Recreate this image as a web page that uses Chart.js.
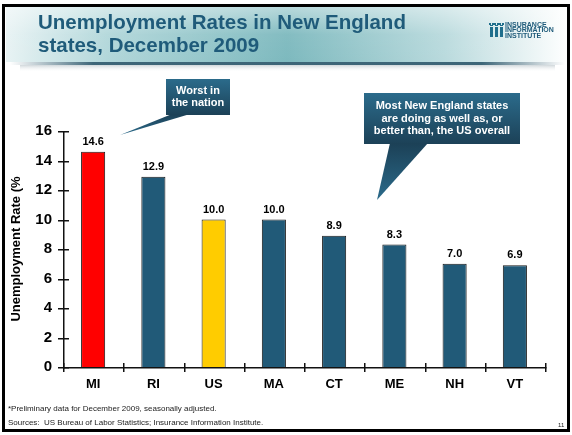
<!DOCTYPE html>
<html>
<head>
<meta charset="utf-8">
<title>Unemployment Rates in New England states, December 2009</title>
<script src="https://cdn.jsdelivr.net/npm/chart.js@4/dist/chart.umd.min.js"></script>
<style>
  html, body { margin: 0; padding: 0; background: #fff; }
  canvas { display: block; }
</style>
</head>
<body>
<canvas id="unemployment" width="572" height="435"></canvas>
<script>
const categories = ["MI", "RI", "US", "MA", "CT", "ME", "NH", "VT"];
const rates = [14.6, 12.9, 10.0, 10.0, 8.9, 8.3, 7.0, 6.9];
const yMin = 0;
const yMax = 16;
const yStep = 2;

const FONT = "'Liberation Sans', Arial, Helvetica, sans-serif";

function barColor(label) {
  if (label === "MI") return "#ff0000";
  if (label === "US") return "#ffcc00";
  return "#215a78";
}

// slide background: frame, title banner, logo, footnotes
const slidePlugin = {
  id: "slide",
  beforeDraw(chart) {
    const c = chart.ctx;
    c.save();
    c.fillStyle = "#fff";
    c.fillRect(0, 0, chart.width, chart.height);

    // banner
    let g = c.createLinearGradient(6, 0, 568, 0);
    g.addColorStop(0, "#e8f3f4");
    g.addColorStop(0.18, "#b2d7da");
    g.addColorStop(0.5, "#7db9be");
    g.addColorStop(0.78, "#b9dadd");
    g.addColorStop(1, "#ffffff");
    c.fillStyle = g;
    c.fillRect(6, 7, 562, 55);
    let v = c.createLinearGradient(0, 7, 0, 62);
    v.addColorStop(0, "rgba(255,255,255,0.45)");
    v.addColorStop(0.5, "rgba(255,255,255,0.05)");
    v.addColorStop(1, "rgba(255,255,255,0)");
    c.fillStyle = v;
    c.fillRect(6, 7, 562, 55);

    // rule under the banner
    let r = c.createLinearGradient(10, 0, 565, 0);
    r.addColorStop(0, "rgba(40,85,105,0)");
    r.addColorStop(0.15, "rgba(40,85,105,0.9)");
    r.addColorStop(0.85, "rgba(40,85,105,0.9)");
    r.addColorStop(1, "rgba(40,85,105,0)");
    c.fillStyle = r;
    c.fillRect(10, 62, 555, 3);
    let s = c.createLinearGradient(0, 65, 0, 72);
    s.addColorStop(0, "rgba(120,140,150,0.35)");
    s.addColorStop(1, "rgba(255,255,255,0)");
    c.fillStyle = s;
    c.fillRect(20, 65, 535, 7);

    // title
    c.fillStyle = "#1f5b7a";
    c.font = "bold 20.5px " + FONT;
    c.textBaseline = "middle";
    c.textAlign = "left";
    c.fillText("Unemployment Rates in New England", 38, 23);
    c.fillText("states, December 2009", 38, 46);

    // logo
    c.fillStyle = "#1f6e8c";
    for (let i = 0; i < 3; i++) {
      const lx = 489 + i * 5;
      c.fillRect(lx + 1, 27, 3, 10);
      c.fillRect(lx, 23, 2, 2);
      c.fillRect(lx + 3, 23, 2, 2);
      c.fillRect(lx + 1, 25, 3, 1);
    }
    c.fillStyle = "#1f5b7a";
    c.font = "bold 7px " + FONT;
    c.fillText("INSURANCE", 505, 25);
    c.fillText("INFORMATION", 505, 30.5);
    c.fillText("INSTITUTE", 505, 36);

    // footnotes
    c.fillStyle = "#222";
    c.font = "8px " + FONT;
    c.fillText("*Preliminary data for December 2009, seasonally adjusted.", 8, 409);
    c.fillText("Sources:  US Bureau of Labor Statistics; Insurance Information Institute.", 8, 423);
    c.font = "6px " + FONT;
    c.fillText("11", 558, 425);
    c.restore();
  },
  afterDraw(chart) {
    const c = chart.ctx;
    c.save();
    c.strokeStyle = "#000";
    c.lineWidth = 3;
    c.strokeRect(3.5, 5.5, 565, 425);
    c.restore();
  }
};

// axis lines with tick marks crossing both sides
const crossTicksPlugin = {
  id: "crossTicks",
  afterDatasetsDraw(chart) {
    const c = chart.ctx;
    const x = chart.scales.x;
    const y = chart.scales.y;
    const area = chart.chartArea;
    const lw = 1.5;
    const ax = Math.round(area.left);
    const ay = Math.round(y.getPixelForValue(yMin));
    const top = Math.round(area.top);
    c.save();
    c.fillStyle = "#111";
    c.fillRect(ax, top, lw, ay - top + lw);
    c.fillRect(ax, ay, Math.round(area.right) - ax + lw, lw);
    y.ticks.forEach((t) => {
      const py = Math.round(y.getPixelForValue(t.value));
      c.fillRect(ax - 5, py, 11, lw);
    });
    for (let i = 0; i <= categories.length; i++) {
      const px = Math.round(x.getPixelForValue(i - 0.5));
      c.fillRect(px, ay - 4, lw, 9);
    }
    c.restore();
  }
};

// numbers above each bar
const valueLabelsPlugin = {
  id: "valueLabels",
  afterDatasetsDraw(chart) {
    const c = chart.ctx;
    const meta = chart.getDatasetMeta(0);
    c.save();
    c.fillStyle = "#000";
    c.font = "bold 11px " + FONT;
    c.textAlign = "center";
    c.textBaseline = "middle";
    meta.data.forEach((bar, i) => {
      c.fillText(rates[i].toFixed(1), bar.x, bar.y - 10);
    });
    c.restore();
  }
};

function drawCallout(c, box, base, tip, lines, lineGap) {
  const g = c.createLinearGradient(0, box.y, 0, box.y + box.h);
  g.addColorStop(0, "#2b6b8b");
  g.addColorStop(1, "#1c4157");
  c.fillStyle = g;
  c.fillRect(box.x, box.y, box.w, box.h);
  const pg = c.createLinearGradient(0, box.y + box.h, 0, tip[1]);
  pg.addColorStop(0, "#1c4157");
  pg.addColorStop(1, "#2b6b8b");
  c.fillStyle = pg;
  c.beginPath();
  c.moveTo(base[0], box.y + box.h - 1);
  c.lineTo(base[1], box.y + box.h - 1);
  c.lineTo(tip[0], tip[1]);
  c.closePath();
  c.fill();
  c.fillStyle = "#fff";
  c.font = "bold 11px " + FONT;
  c.textAlign = "center";
  c.textBaseline = "middle";
  const cx = box.x + box.w / 2;
  const top = box.y + box.h / 2 - (lines.length - 1) * lineGap / 2;
  lines.forEach((t, i) => c.fillText(t, cx, top + i * lineGap));
}

const calloutPlugin = {
  id: "callouts",
  afterDraw(chart) {
    const c = chart.ctx;
    c.save();
    drawCallout(c, { x: 166, y: 79, w: 64, h: 36 }, [172, 190], [120, 135],
      ["Worst in", "the nation"], 11.5);
    drawCallout(c, { x: 364, y: 93, w: 156, h: 51 }, [390, 428], [377, 200],
      ["Most New England states", "are doing as well as, or", "better than, the US overall"], 12.5);
    c.restore();
  }
};

new Chart(document.getElementById("unemployment"), {
  type: "bar",
  data: {
    labels: categories,
    datasets: [
      {
        label: "Unemployment rate",
        data: rates,
        backgroundColor: (ctx) => barColor(categories[ctx.dataIndex]),
        borderColor: "#1a1a1a",
        borderWidth: 1,
        categoryPercentage: 1,
        barPercentage: 0.4,
      },
    ],
  },
  options: {
    responsive: false,
    animation: false,
    events: [],
    layout: { padding: { top: 131, right: 27, bottom: 0, left: 0 } },
    plugins: {
      legend: { display: false },
      tooltip: { enabled: false },
    },
    scales: {
      x: {
        afterFit: (scale) => { scale.height = 68; },
        grid: { display: false, drawTicks: false },
        border: { display: false },
        ticks: {
          color: "#000",
          padding: 10,
          font: { family: FONT, size: 13, weight: "bold" },
        },
      },
      y: {
        min: yMin,
        max: yMax,
        afterFit: (scale) => { scale.width = 63; },
        grid: { display: false, drawTicks: false },
        border: { display: false },
        ticks: {
          stepSize: yStep,
          color: "#000",
          padding: 11,
          font: { family: FONT, size: 15, weight: "bold" },
        },
        title: {
          display: true,
          text: "Unemployment Rate (%",
          color: "#000",
          padding: { top: 9, bottom: 0 },
          font: { family: FONT, size: 13, weight: "bold" },
        },
      },
    },
  },
  plugins: [slidePlugin, crossTicksPlugin, valueLabelsPlugin, calloutPlugin],
});
</script>
</body>
</html>
